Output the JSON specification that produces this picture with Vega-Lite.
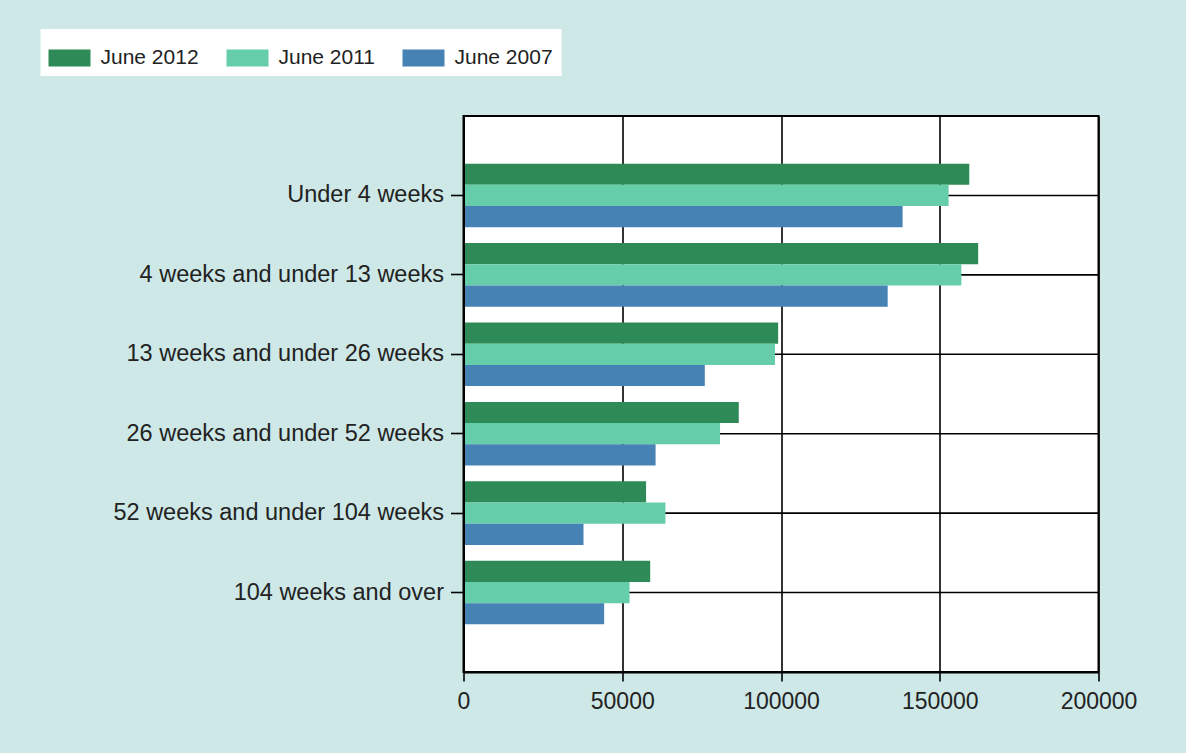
{
  "$schema": "https://vega.github.io/schema/vega-lite/v6.json",
  "autosize": {"type": "none"},
  "padding": {"left": 463.5, "top": 116, "right": 87.5, "bottom": 81},
  "width": 635,
  "height": 556,
  "background": "#cde8e6",
  "config": {
    "font": "Liberation Sans",
    "view": {"fill": "white", "stroke": "black", "strokeWidth": 2},
    "axis": {"labelFont": "Liberation Sans", "labelColor": "#222222"}
  },
  "data": {
    "values": [
      {"category": "Under 4 weeks", "series": "June 2012", "value": 159300},
      {"category": "Under 4 weeks", "series": "June 2011", "value": 152800},
      {"category": "Under 4 weeks", "series": "June 2007", "value": 138300},
      {"category": "4 weeks and under 13 weeks", "series": "June 2012", "value": 162100},
      {"category": "4 weeks and under 13 weeks", "series": "June 2011", "value": 156800},
      {"category": "4 weeks and under 13 weeks", "series": "June 2007", "value": 133600},
      {"category": "13 weeks and under 26 weeks", "series": "June 2012", "value": 99100},
      {"category": "13 weeks and under 26 weeks", "series": "June 2011", "value": 98100},
      {"category": "13 weeks and under 26 weeks", "series": "June 2007", "value": 76000},
      {"category": "26 weeks and under 52 weeks", "series": "June 2012", "value": 86700},
      {"category": "26 weeks and under 52 weeks", "series": "June 2011", "value": 80800},
      {"category": "26 weeks and under 52 weeks", "series": "June 2007", "value": 60500},
      {"category": "52 weeks and under 104 weeks", "series": "June 2012", "value": 57500},
      {"category": "52 weeks and under 104 weeks", "series": "June 2011", "value": 63600},
      {"category": "52 weeks and under 104 weeks", "series": "June 2007", "value": 37800},
      {"category": "104 weeks and over", "series": "June 2012", "value": 58800},
      {"category": "104 weeks and over", "series": "June 2011", "value": 52300},
      {"category": "104 weeks and over", "series": "June 2007", "value": 44300}
    ]
  },
  "layer": [
    {
      "transform": [{"filter": "datum.series == 'June 2012'"}],
      "mark": {"type": "rule", "color": "black", "strokeWidth": 1.6},
      "encoding": {
        "y": {
          "field": "category",
          "type": "nominal",
          "sort": null,
          "title": null,
          "scale": {"paddingInner": 0.2, "paddingOuter": 0.6}
        }
      }
    },
    {
      "mark": {"type": "bar"},
      "encoding": {
        "y": {
          "field": "category",
          "type": "nominal",
          "sort": null,
          "title": null,
          "scale": {"paddingInner": 0.2, "paddingOuter": 0.6},
          "axis": {
            "zindex": 1,
            "grid": false,
            "domainColor": "black",
            "domainWidth": 2,
            "tickColor": "black",
            "tickWidth": 1.6,
            "tickSize": 13,
            "labelFontSize": 23.5,
            "labelPadding": 7,
            "labelLimit": 400
          }
        },
        "yOffset": {
          "field": "series",
          "type": "nominal",
          "sort": ["June 2012", "June 2011", "June 2007"]
        },
        "x": {
          "field": "value",
          "type": "quantitative",
          "title": null,
          "scale": {"domain": [0, 200000], "nice": false},
          "axis": {
            "values": [0, 50000, 100000, 150000, 200000],
            "format": "d",
            "zindex": 0,
            "grid": true,
            "gridColor": "black",
            "gridWidth": 1.6,
            "gridOpacity": 1,
            "domainColor": "black",
            "domainWidth": 2,
            "tickColor": "black",
            "tickWidth": 1.6,
            "tickSize": 9,
            "labelFontSize": 23,
            "labelPadding": 9,
            "labelFlush": false
          }
        },
        "color": {
          "field": "series",
          "type": "nominal",
          "scale": {
            "domain": ["June 2012", "June 2011", "June 2007"],
            "range": ["#2e8b57", "#66cdaa", "#4682b4"]
          },
          "legend": {
            "title": null,
            "orient": "none",
            "direction": "horizontal",
            "legendX": -423,
            "legendY": -87,
            "fillColor": "white",
            "padding": 8,
            "symbolType": "M-1,-0.405H1V0.405H-1Z",
            "symbolSize": 1764,
            "symbolStrokeWidth": 0,
            "symbolOpacity": 1,
            "labelFont": "Liberation Sans",
            "labelFontSize": 21,
            "labelColor": "#222222",
            "labelOffset": 10,
            "columnPadding": 27
          }
        }
      }
    }
  ]
}
